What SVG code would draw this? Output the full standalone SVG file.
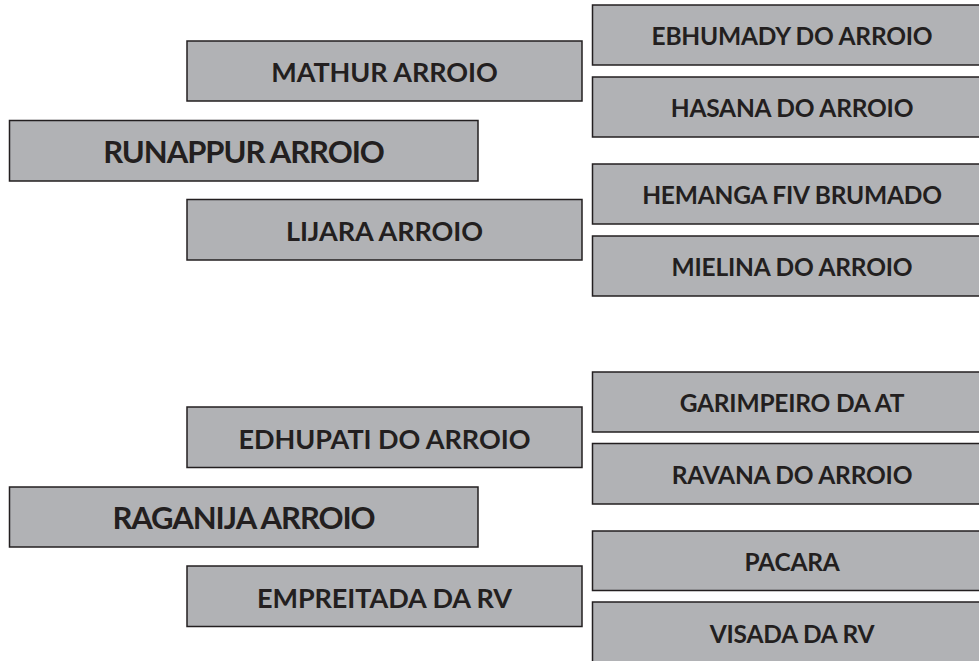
<svg xmlns="http://www.w3.org/2000/svg" width="979" height="661" viewBox="0 0 979 661">
<style>
.box{fill:#b1b2b5;stroke:#231f20;stroke-width:1.5}
text{font-family:Lato,"Open Sans","Liberation Sans",sans-serif;font-weight:700;fill:#231f20;text-anchor:middle}
.mid{font-size:27px;letter-spacing:-0.05px}
.big{font-size:31px;letter-spacing:-1.05px}
.sm{font-size:24.5px;letter-spacing:-0.2px}
</style>
<rect width="979" height="661" fill="#ffffff"/>
<g id="connectors"></g>
<g id="mathur"><rect class="box" x="187" y="41" width="395" height="60"/><text class="mid" x="384.5" y="82">MATHUR ARROIO</text></g>
<g id="runappur"><rect class="box" x="9.5" y="120.5" width="468.5" height="60.5"/><text class="big" x="243.5" y="163">RUNAPPUR ARROIO</text></g>
<g id="lijara"><rect class="box" x="187" y="199.5" width="395" height="60.5"/><text class="mid" x="384.5" y="241">LIJARA ARROIO</text></g>
<g id="ebhumady"><rect class="box" x="592.5" y="5" width="400" height="60"/><text class="sm" x="792" y="45">EBHUMADY DO ARROIO</text></g>
<g id="hasana"><rect class="box" x="592.5" y="77" width="400" height="60"/><text class="sm" x="792" y="117">HASANA DO ARROIO</text></g>
<g id="hemanga"><rect class="box" x="592.5" y="164" width="400" height="60"/><text class="sm" x="792" y="204">HEMANGA FIV BRUMADO</text></g>
<g id="mielina"><rect class="box" x="592.5" y="236" width="400" height="60"/><text class="sm" x="792" y="276">MIELINA DO ARROIO</text></g>
<g id="edhupati"><rect class="box" x="187" y="407" width="395" height="60.5"/><text class="mid" x="384.5" y="449">EDHUPATI DO ARROIO</text></g>
<g id="raganija"><rect class="box" x="9.5" y="487" width="468.5" height="60"/><text class="big" x="243.5" y="529">RAGANIJA ARROIO</text></g>
<g id="empreitada"><rect class="box" x="187" y="566" width="395" height="60.5"/><text class="mid" x="384.5" y="608">EMPREITADA DA RV</text></g>
<g id="garimpeiro"><rect class="box" x="592.5" y="372" width="400" height="60"/><text class="sm" x="792" y="412">GARIMPEIRO DA AT</text></g>
<g id="ravana"><rect class="box" x="592.5" y="443.5" width="400" height="60.5"/><text class="sm" x="792" y="484">RAVANA DO ARROIO</text></g>
<g id="pacara"><rect class="box" x="592.5" y="531" width="400" height="59.5"/><text class="sm" x="792" y="571">PACARA</text></g>
<g id="visada"><rect class="box" x="592.5" y="602" width="400" height="70"/><text class="sm" x="792" y="643">VISADA DA RV</text></g>
</svg>
